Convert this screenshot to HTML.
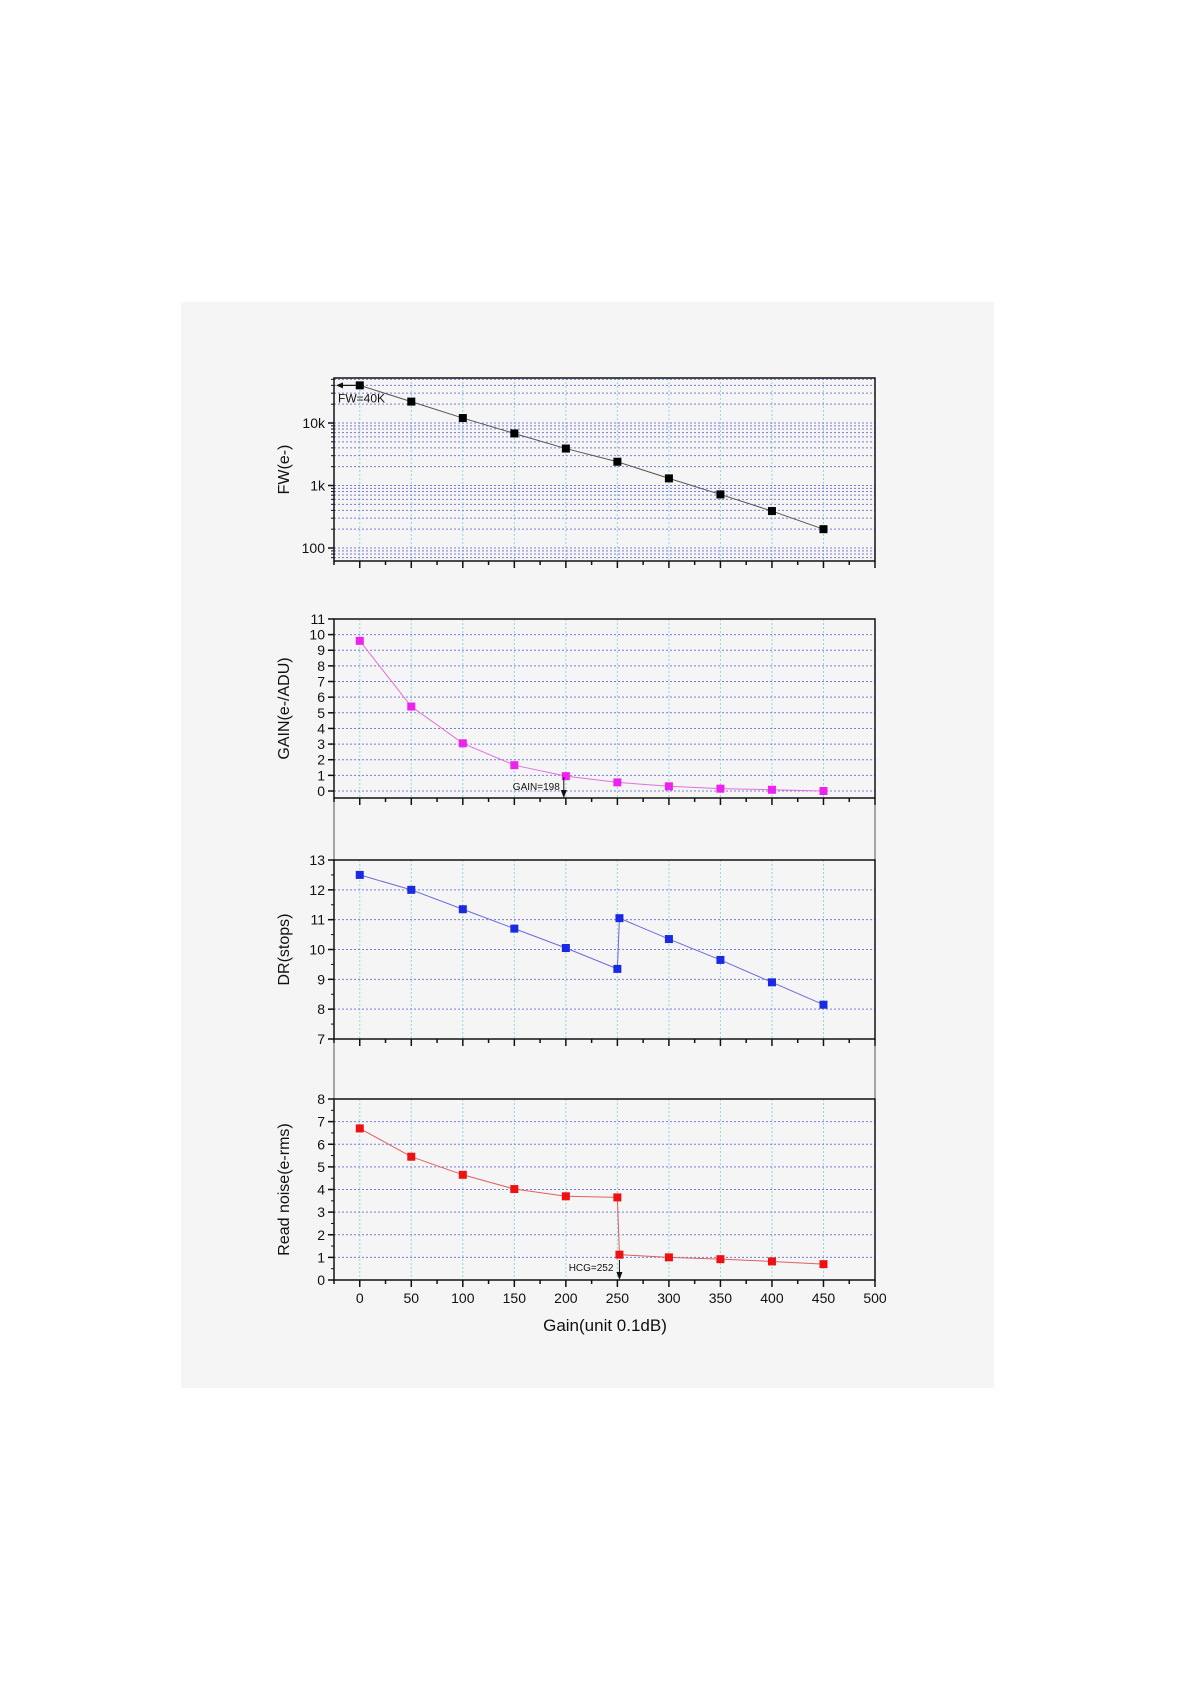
<!DOCTYPE html>
<html><head><meta charset="utf-8"><style>
html,body{margin:0;padding:0;background:#fff;}
svg{display:block;font-family:"Liberation Sans",sans-serif;}
</style></head><body>
<svg id="s" width="1191" height="1684" xmlns="http://www.w3.org/2000/svg">
<rect x="181" y="302" width="813" height="1086" fill="#f5f5f5"/>
</svg>
<script>
const S=document.getElementById('s');const NS='http://www.w3.org/2000/svg';
function el(t,a,txt){const e=document.createElementNS(NS,t);for(const k in a)e.setAttribute(k,a[k]);if(txt!==undefined)e.textContent=txt;S.appendChild(e);return e;}
const L=334,R=875;const X=v=>L+(v+25)*(R-L)/525;
const xs=[0,50,100,150,200,250,300,350,400,450];
function frame(top,bot,yf,yticks,minor,hgrid,title,tickLabel){
  xs.forEach(v=>el('line',{x1:X(v),x2:X(v),y1:top,y2:bot,stroke:'#8fd8e0','stroke-width':1,'stroke-dasharray':'2,2'}));
  hgrid.forEach(v=>el('line',{x1:L,x2:R,y1:yf(v),y2:yf(v),stroke:'#7a7ad8','stroke-width':1,'stroke-dasharray':'2,2'}));
  el('rect',{x:L,y:top,width:R-L,height:bot-top,fill:'none',stroke:'#111','stroke-width':1.5});
  yticks.forEach(v=>{const y=yf(v);el('line',{x1:L-6,x2:L,y1:y,y2:y,stroke:'#111','stroke-width':1.5});
    el('text',{x:L-9,y:y+5,'text-anchor':'end','font-size':14,fill:'#111'},tickLabel?tickLabel(v):String(v));});
  minor.forEach(v=>{const y=yf(v);el('line',{x1:L-3,x2:L,y1:y,y2:y,stroke:'#111','stroke-width':1});});
  el('text',{x:0,y:0,transform:`translate(289,${(top+bot)/2}) rotate(-90)`,'text-anchor':'middle','font-size':16,fill:'#111'},title);
}
function xticks(bot,labels){
  for(let v=-25;v<=500;v+=25){const x=X(v);const maj=v%50==0;
    el('line',{x1:x,x2:x,y1:bot,y2:bot+(maj?7:4),stroke:'#111','stroke-width':1.5});
    if(labels&&maj&&v>=0)el('text',{x:x,y:bot+23,'text-anchor':'middle','font-size':14,fill:'#111'},String(v));}
}
function series(pts,yf,col,lc){
  el('polyline',{points:pts.map(p=>X(p[0])+','+yf(p[1])).join(' '),fill:'none',stroke:lc,'stroke-width':1});
  pts.forEach(p=>el('rect',{x:X(p[0])-4,y:yf(p[1])-4,width:8,height:8,fill:col}));
}
{const top=378,bot=561;const yf=v=>423-(Math.log10(v)-4)*62.5;
 const hg=[];for(let d of [100,1000,10000])for(let m=1;m<10;m++){const v=d*m;if(yf(v)>top&&yf(v)<bot)hg.push(v);}
 [70,80,90].forEach(v=>hg.push(v));
 frame(top,bot,yf,[100,1000,10000],hg,hg,'FW(e-)',v=>v==100?'100':v==1000?'1k':'10k');
 xticks(bot,false);
 series([[0,40000],[50,22000],[100,12000],[150,6800],[200,3900],[250,2400],[300,1300],[350,720],[400,390],[450,200]],yf,'#000','#555');
 el('line',{x1:X(0)-4,x2:L+6,y1:yf(40000),y2:yf(40000),stroke:'#111','stroke-width':1.2});
 el('polygon',{points:`${L+2},${yf(40000)} ${L+9},${yf(40000)-3} ${L+9},${yf(40000)+3}`,fill:'#111'});
 el('text',{x:L+4,y:yf(40000)+17,'font-size':12,fill:'#111'},'FW=40K');
}
el('line',{x1:L,x2:L,y1:798,y2:860,stroke:'#555','stroke-width':1});el('line',{x1:R,x2:R,y1:798,y2:860,stroke:'#555','stroke-width':1});
el('line',{x1:L,x2:L,y1:1039,y2:1099,stroke:'#555','stroke-width':1});el('line',{x1:R,x2:R,y1:1039,y2:1099,stroke:'#555','stroke-width':1});
{const top=619,bot=798;const yf=v=>791-v*15.64;const t=[];for(let i=0;i<=11;i++)t.push(i);
 frame(top,bot,yf,t,[],t.slice(0,11),'GAIN(e-/ADU)');
 xticks(bot,false);
 series([[0,9.6],[50,5.4],[100,3.05],[150,1.65],[200,0.95],[250,0.55],[300,0.3],[350,0.15],[400,0.08],[450,0.0]],yf,'#ee22ee','#e070e0');
 const ax=X(198);el('line',{x1:ax,x2:ax,y1:777,y2:792,stroke:'#111'});
 el('polygon',{points:`${ax},${798} ${ax-3},${790} ${ax+3},${790}`,fill:'#111'});
 el('text',{x:ax-4,y:790,'text-anchor':'end','font-size':10,fill:'#111'},'GAIN=198');
}
{const top=860,bot=1039;const yf=v=>bot-(v-7)*(bot-top)/6;const t=[7,8,9,10,11,12,13];
 frame(top,bot,yf,t,[7.5,8.5,9.5,10.5,11.5,12.5],[8,9,10,11,12],'DR(stops)');
 xticks(bot,false);
 series([[0,12.5],[50,12.0],[100,11.35],[150,10.7],[200,10.05],[250,9.35],[252,11.05],[300,10.35],[350,9.65],[400,8.9],[450,8.15]],yf,'#1a2ae0','#6a6ae0');
}
{const top=1099,bot=1280;const yf=v=>bot-v*(bot-top)/8;const t=[0,1,2,3,4,5,6,7,8];
 frame(top,bot,yf,t,[0.5,1.5,2.5,3.5,4.5,5.5,6.5,7.5],[1,2,3,4,5,6,7],'Read noise(e-rms)');
 xticks(bot,true);
 series([[0,6.7],[50,5.45],[100,4.65],[150,4.02],[200,3.7],[250,3.65],[252,1.12],[300,1.0],[350,0.92],[400,0.82],[450,0.7]],yf,'#ee1111','#e06060');
 const ax=X(252);el('line',{x1:ax,x2:ax,y1:1260,y2:1274,stroke:'#111'});
 el('polygon',{points:`${ax},${1280} ${ax-3},${1272} ${ax+3},${1272}`,fill:'#111'});
 el('text',{x:ax-6,y:1271,'text-anchor':'end','font-size':10,fill:'#111'},'HCG=252');
 el('text',{x:605,y:1331,'text-anchor':'middle','font-size':17,fill:'#111'},'Gain(unit 0.1dB)');
}
</script>
</body></html>
